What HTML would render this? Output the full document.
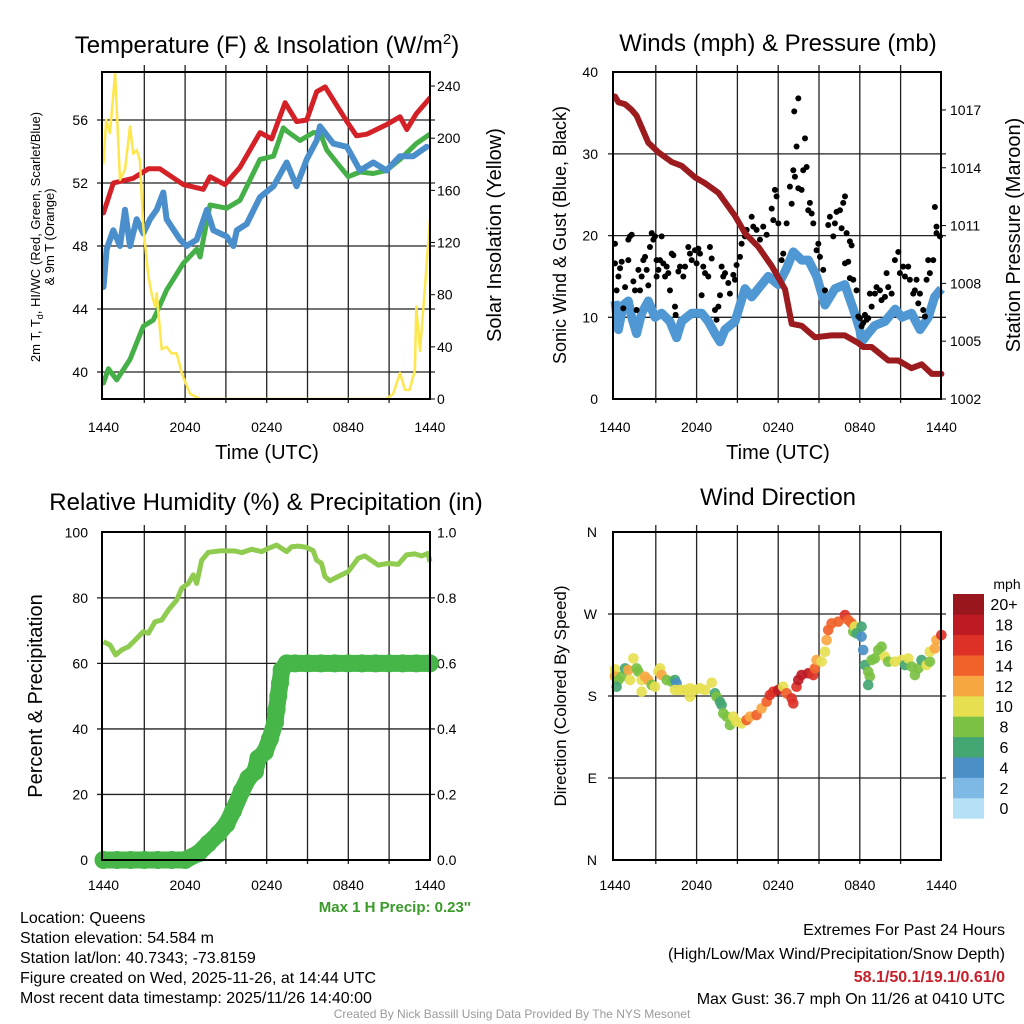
<!DOCTYPE html>
<html><head><meta charset="utf-8"><style>
html,body{margin:0;padding:0;background:#fff;}
svg{display:block;font-family:"Liberation Sans",Arial,sans-serif;}
</style></head><body>
<svg id="s" width="1024" height="1024" viewBox="0 0 1024 1024" xmlns="http://www.w3.org/2000/svg">
<rect width="1024" height="1024" fill="#fff"/>
<g id="g1"></g>
<g id="g2"></g>
<g id="g3"></g>
<g id="g4"></g>
<g font-size="24" text-anchor="middle" fill="#000">
<text x="267" y="53">Temperature (F) &amp; Insolation (W/m<tspan dy="-9" font-size="15">2</tspan><tspan dy="9">)</tspan></text>
<text x="778" y="51">Winds (mph) &amp; Pressure (mb)</text>
<text x="266" y="510">Relative Humidity (%) &amp; Precipitation (in)</text>
<text x="778" y="505">Wind Direction</text>
</g>
<g font-size="20" text-anchor="middle">
<text x="267" y="459">Time (UTC)</text>
<text x="778" y="459">Time (UTC)</text>
<text transform="translate(501,235) rotate(-90)">Solar Insolation (Yellow)</text>
<text transform="translate(1020,235) rotate(-90)">Station Pressure (Maroon)</text>
<text transform="translate(42,696) rotate(-90)">Percent &amp; Precipitation</text>
<text transform="translate(566,235) rotate(-90)" font-size="18">Sonic Wind &amp; Gust (Blue, Black)</text>
<text transform="translate(566,696) rotate(-90)" font-size="17">Direction (Colored By Speed)</text>
<text transform="translate(40,237) rotate(-90)" font-size="13">2m T, T<tspan font-size="9" dy="3">d</tspan><tspan dy="-3">, HI/WC (Red, Green, Scarlet/Blue)</tspan></text>
<text transform="translate(54,237) rotate(-90)" font-size="13">&amp; 9m T (Orange)</text>
</g>
<g font-size="16" fill="#000">
<text x="20" y="923">Location: Queens</text>
<text x="20" y="943">Station elevation: 54.584 m</text>
<text x="20" y="963">Station lat/lon: 40.7343; -73.8159</text>
<text x="20" y="983">Figure created on Wed, 2025-11-26, at 14:44 UTC</text>
<text x="20" y="1003">Most recent data timestamp: 2025/11/26 14:40:00</text>
</g>
<g font-size="16" text-anchor="end">
<text x="1005" y="935">Extremes For Past 24 Hours</text>
<text x="1005" y="959">(High/Low/Max Wind/Precipitation/Snow Depth)</text>
<text x="1005" y="982" fill="#c8202a" font-weight="bold">58.1/50.1/19.1/0.61/0</text>
<text x="1005" y="1004">Max Gust: 36.7 mph On 11/26 at 0410 UTC</text>
<text x="471" y="912" fill="#3a9a2a" font-weight="bold" font-size="15">Max 1 H Precip: 0.23''</text>
</g>
<text x="512" y="1018" font-size="12" fill="#9a9a9a" text-anchor="middle">Created By Nick Bassill Using Data Provided By The NYS Mesonet</text>
</svg>
<script>
// ---------- DATA ----------
const xTickLabels = ["1440","2040","0240","0840","1440"];
const xTickHours = [0,6,12,18,24];
// Panel 1
const tempTicks = [40,44,48,52,56];
const solarTicks = [0,40,80,120,160,200,240];
const tempHours = [0,0.72,2.19,3.3,4.15,5.87,7.34,7.83,8.93,10.04,11.51,12.37,13.35,14.2,14.94,15.68,16.3,17.9,18.6,19.35,20.8,21.8,22.3,23.0,24];
const tempValues = [50.1,52.0,52.3,52.9,52.9,51.9,51.6,52.4,51.9,53.0,55.2,54.8,57.1,55.9,56.0,57.8,58.1,55.9,55.0,55.1,55.7,56.2,55.4,56.4,57.4];
const dewHours = [0,0.36,0.97,1.95,2.93,3.66,4.64,5.87,6.85,7.1,7.34,7.83,9.06,10.04,11.51,12.5,13.22,13.47,14.45,15.43,15.92,16.41,17.15,18.0,18.86,19.84,20.8,21.8,23.0,24];
const dewValues = [39.3,40.2,39.5,40.8,42.9,43.3,45.2,46.9,47.8,47.3,48.4,50.6,50.4,50.9,53.5,53.7,55.5,55.3,54.7,55.2,55.2,54.1,53.3,52.4,52.7,52.6,52.8,53.5,54.5,55.1];
const t9Hours = [0,0.23,0.72,1.21,1.58,1.95,2.44,2.93,3.42,3.91,4.4,4.64,5.63,6.12,6.85,7.6,8.08,9.06,9.55,9.8,10.53,11.51,12.5,13.47,14.2,14.94,15.68,15.92,16.9,17.9,18.86,19.84,20.8,21.8,22.78,23.76];
const t9Values = [45.4,47.8,49.0,48.0,50.3,48.0,49.7,48.8,49.7,50.3,51.4,49.7,48.4,48.0,48.4,50.3,49.0,48.6,48.0,49.0,49.4,51.1,51.8,53.3,51.8,53.5,54.7,55.6,54.5,54.3,52.8,53.3,52.8,53.7,53.7,54.3];
const solarHours = [0,0.2,0.48,0.85,1.09,1.21,1.58,1.95,2.19,2.44,2.68,2.93,3.3,3.54,3.79,3.91,4.28,4.64,5.01,5.38,5.75,6.36,7.1,20.8,21.3,21.8,22.17,22.5,22.9,23.0,23.27,23.6,24];
const solarValues = [181,214,204,250,196,168,176,209,188,191,183,132,94,81,71,81,38,40,35,35,20,4,0,0,4,20,7,7,22,71,37,81,137];
// Panel 2
const windTicks = [0,10,20,30,40];
const presTicks = [1002,1005,1008,1011,1014,1017];
const presHours = [0,0.25,0.74,1.23,1.59,2.45,3.19,4.17,4.9,5.88,6.62,7.6,8.82,9.56,10.54,11.52,12.5,12.99,13.73,14.7,15.93,16.9,17.9,18.26,18.87,20.1,20.83,21.8,22.55,23.3,24];
const presValues = [1017.7,1017.4,1017.3,1017.0,1016.7,1015.3,1014.8,1014.3,1014.1,1013.5,1013.2,1012.7,1011.5,1010.6,1009.9,1008.9,1007.7,1005.9,1005.8,1005.2,1005.3,1005.3,1004.9,1004.7,1004.7,1004.0,1004.0,1003.6,1003.8,1003.3,1003.3];
const windHours = [0,0.25,0.61,0.98,1.23,1.59,1.96,2.45,2.94,3.43,4.04,4.53,4.9,5.64,6.37,6.86,7.35,7.72,8.09,8.82,9.56,10.05,10.54,11.27,12.01,12.62,13.11,13.73,14.22,14.83,15.44,16.18,16.9,17.52,18.0,18.14,18.6,19.1,19.85,20.6,21.1,21.8,22.43,23.04,23.5,24];
const windValues = [12.0,8.5,11.5,12.0,10.0,8.0,10.5,12.0,10.0,10.5,9.5,7.5,9.5,10.5,10.5,9.5,8.0,7.0,8.5,9.5,13.5,12.5,13.5,15.0,14.0,16.0,18.0,17.0,17.0,15.0,11.5,13.5,14.0,11.0,8.5,7.0,8.0,9.0,9.5,11.0,10.0,10.5,8.5,10.0,12.5,13.5];
const gustHours = [0,0,0.25,0.12,0.37,0.49,0.74,0.61,0.98,0.98,1.10,1.23,1.35,1.47,1.59,1.72,1.84,1.96,2.08,2.21,2.33,2.45,2.57,2.70,2.82,2.94,3.06,3.06,3.19,3.31,3.43,3.55,3.68,3.80,3.92,4.04,4.17,4.29,4.41,4.46,4.66,4.78,5.02,5.15,5.39,5.51,5.64,5.88,6.00,6.13,6.25,6.37,6.49,6.62,6.86,6.98,7.11,7.35,7.47,7.60,7.72,7.84,7.96,8.09,8.33,8.45,8.70,8.82,8.94,9.19,9.31,9.56,9.68,10.05,10.17,10.41,10.66,10.90,11.15,11.52,11.64,11.76,11.88,12.01,12.25,12.37,12.62,12.86,12.99,13.11,13.23,13.18,13.35,13.48,13.48,13.72,13.84,13.97,14.09,14.21,14.33,14.46,14.58,14.82,14.95,15.07,15.31,15.44,15.68,15.80,16.05,16.17,16.29,16.54,16.66,16.78,16.91,17.03,17.27,17.40,16.91,17.15,17.27,17.52,17.76,17.89,18.01,18.13,18.25,18.38,18.50,18.62,18.74,18.87,19.11,19.23,19.48,19.60,19.85,19.97,20.09,20.34,20.58,20.83,20.95,21.19,21.32,21.56,21.68,21.93,22.05,22.17,22.30,22.42,22.66,22.79,22.91,23.03,23.15,23.40,23.52,23.64,23.64,23.89];
const gustValues = [19.0,16.6,15.0,13.3,16.0,16.8,13.7,11.1,17.0,19.5,19.9,20.1,14.4,13.3,10.9,15.8,13.3,15.0,17.0,17.4,15.8,13.9,18.6,20.3,19.5,19.9,17.0,15.0,15.8,17.0,19.9,16.6,15.0,16.2,15.4,13.3,17.8,17.6,11.3,10.3,15.6,16.2,15.0,16.2,18.6,17.8,17.0,18.2,16.6,18.4,17.8,12.7,16.2,15.4,15.0,18.6,17.2,10.9,9.7,11.3,12.7,16.2,15.0,15.4,14.2,12.9,15.2,14.6,16.4,17.4,19.0,19.9,20.7,22.3,21.1,20.7,19.5,21.1,20.1,23.3,21.9,25.6,24.8,21.5,17.0,17.8,21.5,26.0,23.9,28.0,27.2,35.2,30.9,36.8,25.8,25.6,28.0,31.9,28.4,23.1,24.0,22.7,21.5,18.2,19.0,17.4,15.8,13.3,21.3,22.3,19.9,21.5,22.9,23.1,20.9,24.0,24.8,20.3,19.3,18.8,16.6,16.8,14.8,14.6,13.3,10.1,9.9,8.9,9.3,10.3,9.7,9.9,12.9,11.3,12.9,13.7,13.3,12.1,12.5,15.4,13.7,12.9,17.0,18.0,15.4,16.2,15.0,16.2,14.6,12.9,13.3,14.6,11.7,12.9,10.9,10.1,14.6,17.0,15.4,17.0,23.5,21.1,20.3,19.9];
// Panel 3
const rhTicks = [0,20,40,60,80,100];
const precipTicks = ["0.0","0.2","0.4","0.6","0.8","1.0"];
const rhHours = [0,0.48,0.89,1.34,1.83,2.32,2.93,3.3,3.79,4.28,4.77,5.38,5.75,6.24,6.6,6.85,7.22,7.71,8.69,9.67,10.16,10.9,11.63,12.12,12.73,13.47,13.84,14.33,14.94,15.42,15.67,16.03,16.28,16.64,17.26,17.99,18.73,19.22,20.2,20.93,21.67,22.28,22.89,23.38,23.87,24];
const rhValues = [66.6,65.6,62.6,64.1,65.1,67.1,69.7,69.2,72.7,73.2,76.3,79.3,82.9,84.4,87.0,84.4,91.5,93.9,94.4,94.3,93.8,94.8,94.1,95.1,96.1,94.1,95.6,95.8,95.4,94.4,91.5,90.5,86.5,85.2,86.5,88.0,92.1,92.8,90.0,90.5,90.2,93.1,93.4,92.8,93.6,91.0];
const precipHours = [0,1,2,3,4,5,6,6.97,7.7,8.44,9.05,9.53,10.16,10.65,11.14,11.38,11.87,12.24,12.61,12.73,12.85,12.98,13.1,13.47,14.08,15,16,17,18,19,20,21,22,23,24];
const precipValues = [0,0,0,0,0,0,0,0.02,0.05,0.08,0.11,0.15,0.21,0.25,0.27,0.31,0.33,0.37,0.42,0.46,0.50,0.54,0.58,0.60,0.60,0.60,0.60,0.60,0.60,0.60,0.60,0.60,0.60,0.60,0.60];
// Panel 4
const dirTicks = ["N","E","S","W","N"];
const dirTickDeg = [0,90,180,270,360];
const speedBins = ["0","2","4","6","8","10","12","14","16","18","20+"];
const speedColors = ["#b6e0f6","#7db9e4","#4a8fc6","#44a673","#7bc143","#e6e050","#f7a742","#f0622a","#dd3127","#bd1a24","#99161c"];
const dirHours = [0,0,0,0.25,0.12,0.49,0.74,0.98,1.10,1.35,1.59,1.72,1.96,1.96,2.21,2.45,2.70,2.94,3.19,3.31,3.43,3.80,4.17,4.41,4.53,4.41,4.78,5.15,5.51,5.51,5.88,6.25,6.62,7.11,7.35,7.47,7.72,7.84,7.96,8.21,8.45,8.70,8.94,9.31,9.68,9.92,10.41,10.78,11.15,11.39,11.64,12.01,12.37,12.62,12.99,13.11,13.35,13.48,13.72,14.21,14.58,14.70,14.82,15.19,15.44,15.56,15.68,15.93,16.42,16.91,17.15,17.40,17.52,17.64,17.76,18.13,18.13,18.25,18.38,18.62,18.74,18.62,18.87,19.11,19.36,19.60,19.85,20.09,20.58,21.07,21.32,21.56,21.81,22.05,22.30,22.54,22.91,23.15,23.15,23.52,23.64,24.0];
const dirValues = [203.0,209.2,201.2,197.5,190.2,201.2,210.3,208.5,197.5,221.3,210.3,206.7,197.5,184.7,201.2,197.5,192.1,190.2,206.7,210.3,203.0,197.5,195.7,197.5,193.9,186.6,186.6,186.6,188.4,179.2,186.6,188.4,186.6,194.6,182.9,179.2,173.7,170.1,160.9,157.3,148.1,157.3,151.8,150.0,153.6,157.3,159.1,166.4,173.7,181.1,184.7,186.6,190.2,182.9,177.4,171.9,190.2,197.5,203.0,204.9,203.0,210.3,219.5,217.7,228.6,241.4,252.4,259.7,261.6,268.9,263.4,259.7,250.6,256.1,248.8,256.1,245.1,230.5,214.0,206.7,201.2,192.1,219.5,221.3,230.5,234.1,223.1,217.7,217.7,219.5,214.0,221.3,212.2,203.0,210.3,219.5,214.0,217.7,228.6,232.3,241.4,246.9];
const dirSpeeds = [10,10,12,8,6,8,6,12,10,10,8,8,10,10,12,12,8,10,10,10,12,8,8,6,4,10,10,10,10,10,10,10,10,10,6,8,6,6,8,8,8,10,10,10,14,12,14,12,14,16,16,18,10,14,16,16,16,18,18,18,16,14,12,10,10,12,14,14,14,16,14,14,8,10,6,6,4,4,6,8,8,6,8,8,8,8,10,8,10,10,6,10,8,8,8,6,10,8,10,12,12,16];

// ---------- DRAW ----------
const NS="http://www.w3.org/2000/svg";
function mk(parent,tag,attrs){const e=document.createElementNS(NS,tag);for(const k in attrs)e.setAttribute(k,attrs[k]);parent.appendChild(e);return e;}
function txt(parent,x,y,s,size,anchor){const t=mk(parent,"text",{x:x,y:y,"font-size":size,"text-anchor":anchor});t.textContent=s;return t;}
function pathD(hs,vs,fx,fy){return hs.map((h,i)=>(i?"L":"M")+fx(h).toFixed(1)+","+fy(vs[i]).toFixed(1)).join("");}

function frame(g,L,T,R,B,fx){
  for(let h=3;h<24;h+=3){const x=fx(h);
    const l=mk(g,"line",{x1:x,y1:T-7,x2:x,y2:B+4,stroke:"#222","stroke-width":1.3});
    
    }
  xTickHours.forEach((h,i)=>{const t=txt(g,fx(h),432,xTickLabels[i],14,"middle");
    
    });
}
function hgrid(g,L,R,y){const l=mk(g,"line",{x1:L-5,y1:y,x2:R+5,y2:y,stroke:"#222","stroke-width":1.3});
  
  }
function box(g,L,T,R,B){const r=mk(g,"rect",{x:L,y:T,width:R-L,height:B-T,fill:"none",stroke:"#000","stroke-width":2});
  
  }

// Panel 1
(function(){
  const g=document.getElementById("g1");
  const fx=h=>103.5+h*13.6, fy=v=>120+(56-v)*15.75, fs=v=>399-v*1.304;
  const L=102,T=72,R=430,B=399;
  frame(g,L,T,R,B,fx);
  tempTicks.forEach(v=>{hgrid(g,L,R,fy(v));const t=txt(g,88,fy(v)+5,String(v),14,"end");
    
    });
  solarTicks.forEach(v=>{mk(g,"line",{x1:R,y1:fs(v),x2:R+5,y2:fs(v),stroke:"#000"});const t=txt(g,437,fs(v)+5,String(v),14,"start");
    
    });
  const cp=mk(g,"clipPath",{id:"c1"});mk(cp,"rect",{x:L,y:T-2,width:R-L+1,height:B-T+3});
  const series=[[tempHours,tempValues,"#d42127",5,fy,"temperature-line"],[dewHours,dewValues,"#46b048",5,fy,"dewpoint-line"],[t9Hours,t9Values,"#4a8fcb",6,fy,"heat-index-line"],[solarHours,solarValues,"#fde74c",2.5,fs,"insolation-line"]];
  series.forEach(s=>{const p=mk(g,"path",{d:pathD(s[0],s[1],fx,s[4]),fill:"none",stroke:s[2],"stroke-width":s[3],"stroke-linejoin":"round","stroke-linecap":"round","clip-path":"url(#c1)"});
    
    });
  box(g,L,T,R,B);
})();
// Panel 2
(function(){
  const g=document.getElementById("g2");
  const fx=h=>615+h*13.6, fy=v=>399-v*8.17, fp=p=>399-(p-1002)*19.27;
  const L=613,T=72,R=941,B=399;
  frame(g,L,T,R,B,fx);
  windTicks.forEach(v=>{if(v>0&&v<40)hgrid(g,L,R,fy(v));const t=txt(g,598,fy(v)+5,String(v),14,"end");
    
    });
  presTicks.forEach(v=>{mk(g,"line",{x1:R,y1:fp(v),x2:R+5,y2:fp(v),stroke:"#000"});const t=txt(g,950,fp(v)+5,String(v),14,"start");
    
    });
  const w=mk(g,"path",{d:pathD(windHours,windValues,fx,fy),fill:"none",stroke:"#4f98d3","stroke-width":9,"stroke-linejoin":"round"});
  
  
  gustHours.forEach((h,i)=>{const c=mk(g,"circle",{cx:fx(h),cy:fy(gustValues[i]),r:3,fill:"#000"});
    
    });
  const p=mk(g,"path",{d:pathD(presHours,presValues,fx,fp),fill:"none",stroke:"#9b1b1e","stroke-width":6,"stroke-linejoin":"round","stroke-linecap":"round"});
  
  
  box(g,L,T,R,B);
})();
// Panel 3
(function(){
  const g=document.getElementById("g3");
  const fx=h=>103.5+h*13.6, fy=v=>860-v*3.277, fpr=v=>860-v*327.7;
  const L=102,T=532,R=430,B=860;
  for(let h=3;h<24;h+=3){const l=mk(g,"line",{x1:fx(h),y1:T-7,x2:fx(h),y2:B+4,stroke:"#222","stroke-width":1.3});
    
    }
  xTickHours.forEach((h,i)=>{const t=txt(g,fx(h),890,xTickLabels[i],14,"middle");
    
    });
  rhTicks.forEach((v,i)=>{if(v>0&&v<100)hgrid(g,L,R,fy(v));const t=txt(g,88,fy(v)+5,String(v),14,"end");
    
    
    const t2=txt(g,437,fy(v)+5,precipTicks[i],14,"start");
    
    });
  const r=mk(g,"path",{d:pathD(rhHours,rhValues,fx,fy),fill:"none",stroke:"#8fcb4f","stroke-width":5,"stroke-linejoin":"round"});
  
  
  const pl=mk(g,"path",{d:pathD(precipHours,precipValues,fx,fpr),fill:"none",stroke:"#47b649","stroke-width":17,"stroke-linejoin":"round","stroke-linecap":"round"});
  
  
  precipHours.forEach((h,i)=>{const c=mk(g,"circle",{cx:fx(h),cy:fpr(precipValues[i]),r:9,fill:"#47b649"});
    
    });
  box(g,L,T,R,B);
})();
// Panel 4
(function(){
  const g=document.getElementById("g4");
  const fx=h=>615+h*13.6, fy=d=>860-d*328/360;
  const L=613,T=532,R=941,B=860;
  for(let h=3;h<24;h+=3){const l=mk(g,"line",{x1:fx(h),y1:T-7,x2:fx(h),y2:B+4,stroke:"#222","stroke-width":1.3});
    
    }
  xTickHours.forEach((h,i)=>{const t=txt(g,fx(h),890,xTickLabels[i],14,"middle");
    
    });
  dirTickDeg.forEach((d,i)=>{if(d>0&&d<360)hgrid(g,L,R,fy(d));const t=txt(g,597,fy(d)+5,dirTicks[i],14,"end");
    
    });
  dirHours.forEach((h,i)=>{const idx=Math.min(10,Math.round(dirSpeeds[i]/2));
    const c=mk(g,"circle",{cx:fx(h),cy:fy(dirValues[i]),r:5.3,fill:speedColors[idx],"fill-opacity":0.92});
    
    });
  box(g,L,T,R,B);
  const cb=mk(g,"g",{});
  
  
  const h=224.4/11;
  speedBins.forEach((s,i)=>{const y=818.4-(i+1)*h;
    const r=mk(cb,"rect",{x:953,y:y,width:31,height:h+0.3,fill:speedColors[i]});
    
    
    const t=txt(cb,1004,y+h/2+6,s,16,"middle");
    
    });
  const u=txt(cb,1007,589,"mph",14,"middle");
  
  
})();
</script>
</body></html>
